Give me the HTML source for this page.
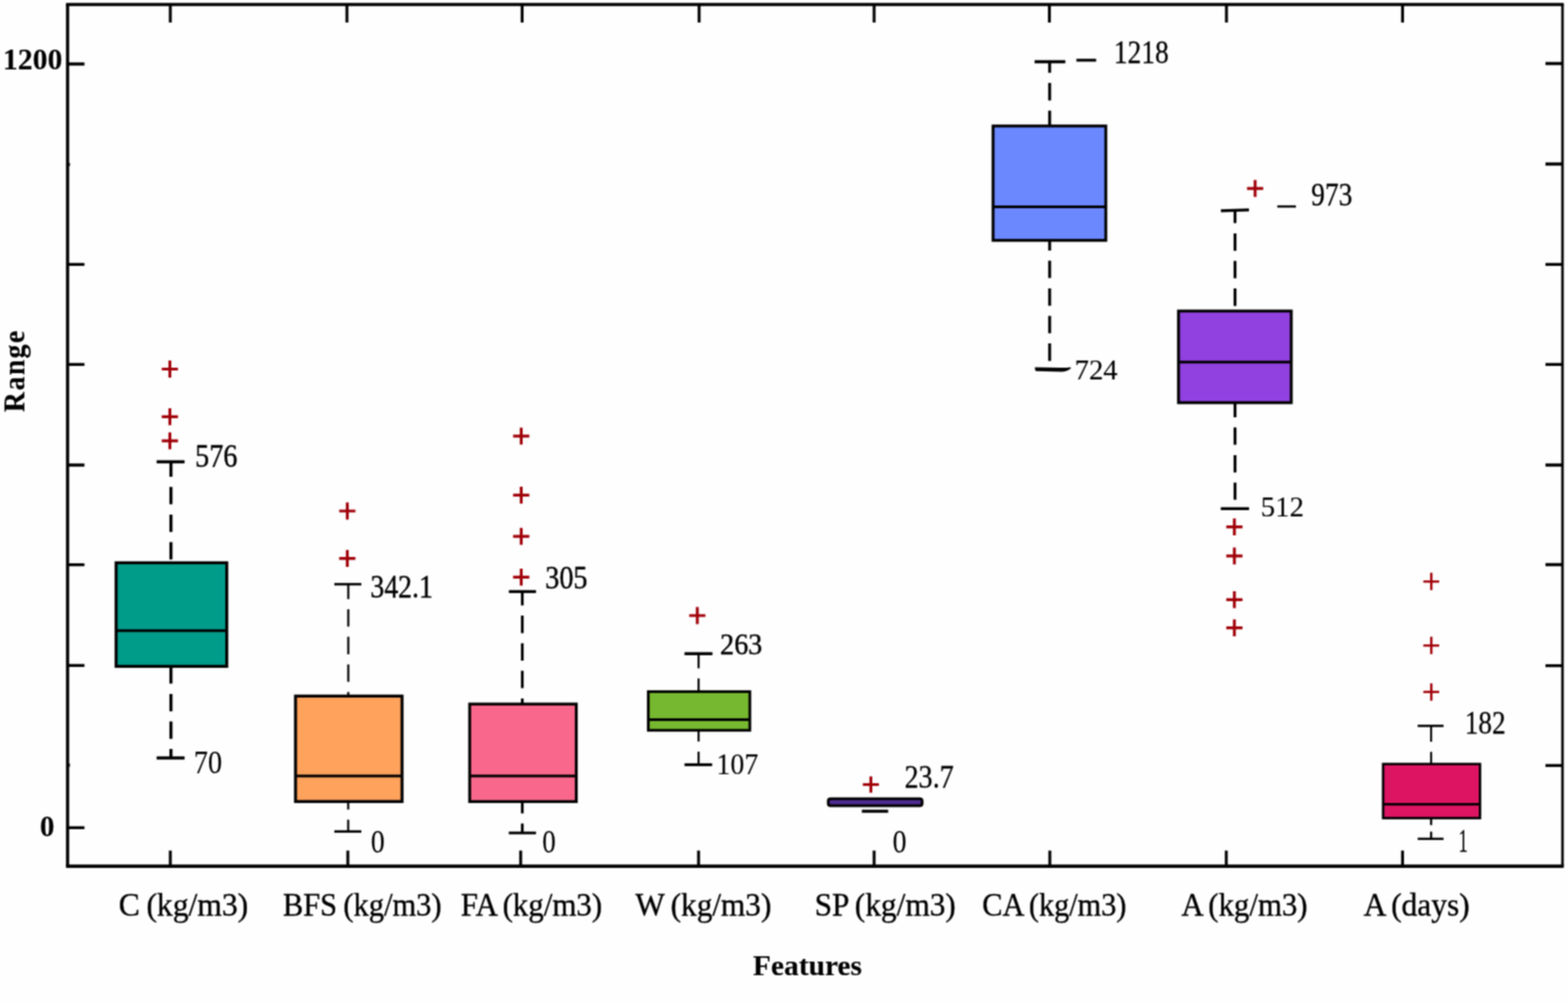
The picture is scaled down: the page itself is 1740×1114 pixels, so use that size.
<!DOCTYPE html>
<html lang="en">
<head>
<meta charset="utf-8">
<title>Box plot of features</title>
<style>
html,body{margin:0;padding:0;background:#fefefe;}
body{width:1740px;height:1114px;overflow:hidden;}
svg{display:block;font-family:'Liberation Serif', 'DejaVu Serif', serif;}
text{fill:#000;stroke:#000;stroke-linejoin:round;}
</style>
</head>
<body>
<svg width="1740" height="1114" viewBox="0 0 1740 1114">
<defs><filter id="soft" x="0" y="0" width="1740" height="1114" filterUnits="userSpaceOnUse" color-interpolation-filters="sRGB"><feConvolveMatrix order="3" kernelMatrix="1 2 1 2 4 2 1 2 1" edgeMode="duplicate" preserveAlpha="true"/></filter></defs>
<g id="chart" filter="url(#soft)">
<rect width="1740" height="1114" fill="#fefefe"/>
<g id="axes" stroke="#000" fill="none" stroke-linecap="butt">
<path d="M73.25 5.0H1735.3" stroke-width="3.6"/>
<path d="M73.25 961.1H1735.3" stroke-width="3.6"/>
<path d="M75.0 5.0V961.1" stroke-width="3.5"/>
<path d="M1733.9 5.0V961.1" stroke-width="2.8"/>
<path d="M189 5.0V25.0M385 5.0V25.0M579.4 5.0V25.0M775.8 5.0V25.0M970 5.0V25.0M1164.5 5.0V25.0M1361 5.0V25.0M1556.4 5.0V25.0M189 961.1V943.8M386 961.1V943.8M577.8 961.1V943.8M775.2 961.1V943.8M970 961.1V943.8M1165 961.1V943.8M1360.8 961.1V943.8M1556.4 961.1V943.8" stroke-width="3.2"/>
<path d="M75.0 71.0H93.7M75.0 293.3H93.7M75.0 404.4H93.7M75.0 516H93.7M75.0 626.7H93.7M75.0 738.3H93.7M75.0 918.3H93.7M1733.9 70.5H1715M1733.9 182H1715M1733.9 293.3H1715M1733.9 404.3H1715M1733.9 516H1715M1733.9 626.5H1715M1733.9 738.7H1715M1733.9 849.3H1715M75.0 182.5H77.6M75.0 849H77.6" stroke-width="3.3"/>
</g>
<g id="axis-labels">
<text x="3.2" y="77.1" font-size="33.5" font-weight="bold" textLength="66" lengthAdjust="spacingAndGlyphs" stroke-width="0.1">1200</text>
<text x="44.3" y="927.8" font-size="33.5" font-weight="bold" textLength="16.2" lengthAdjust="spacingAndGlyphs" stroke-width="0.1">0</text>
<text transform="translate(26.7,457.2) rotate(-90) scale(0.925,1)" font-size="33.4" font-weight="bold" stroke-width="0.1" textLength="97.6" lengthAdjust="spacing">Range</text>
<text x="835.6" y="1082.3" font-size="32.3" font-weight="bold" textLength="121" lengthAdjust="spacingAndGlyphs" stroke-width="0.1">Features</text>
<text x="131.8" y="1016" font-size="35.6" textLength="143.7" lengthAdjust="spacingAndGlyphs" word-spacing="-1.6" stroke-width="0.4">C (kg/m3)</text>
<text x="314" y="1016" font-size="35.6" textLength="176" lengthAdjust="spacingAndGlyphs" word-spacing="-1.6" stroke-width="0.4">BFS (kg/m3)</text>
<text x="511.2" y="1016" font-size="35.6" textLength="157" lengthAdjust="spacingAndGlyphs" word-spacing="-1.6" stroke-width="0.4">FA (kg/m3)</text>
<text x="705" y="1016" font-size="35.6" textLength="151" lengthAdjust="spacingAndGlyphs" word-spacing="-1.6" stroke-width="0.4">W (kg/m3)</text>
<text x="904" y="1016" font-size="35.6" textLength="156.7" lengthAdjust="spacingAndGlyphs" word-spacing="-1.6" stroke-width="0.4">SP (kg/m3)</text>
<text x="1090" y="1016" font-size="35.6" textLength="160" lengthAdjust="spacingAndGlyphs" word-spacing="-1.6" stroke-width="0.4">CA (kg/m3)</text>
<text x="1311" y="1016" font-size="35.6" textLength="140" lengthAdjust="spacingAndGlyphs" word-spacing="-1.6" stroke-width="0.4">A (kg/m3)</text>
<text x="1513.3" y="1016" font-size="35.6" textLength="117.7" lengthAdjust="spacingAndGlyphs" word-spacing="-1.6" stroke-width="0.4">A (days)</text>
</g>
<g id="box-C">
<path d="M189.7 512.4V624" stroke="#000" stroke-width="3.4" stroke-dasharray="19.3 11.3" stroke-dashoffset="2.7"/>
<path d="M173.8 512.4H204.8" stroke="#000" stroke-width="3.5"/>
<path d="M189.7 740V841" stroke="#000" stroke-width="3.4" stroke-dasharray="19.3 11.3" stroke-dashoffset="0.7"/>
<path d="M173.8 841H204.8" stroke="#000" stroke-width="3.5"/>
<rect x="128.85" y="624.45" width="122.8" height="114.9" fill="#009c8a" stroke="#000" stroke-width="3.3"/>
<path d="M128.85 699.8H251.65" stroke="#000" stroke-width="3"/>
<path d="M179.5 409.5H197.5M188.5 400.1V418.9" stroke="#a00008" stroke-width="3.2" fill="none"/>
<path d="M179.5 462.4H197.5M188.5 453V471.8" stroke="#a00008" stroke-width="3.2" fill="none"/>
<path d="M179.5 489.1H197.5M188.5 479.7V498.5" stroke="#a00008" stroke-width="3.2" fill="none"/>
<text x="216.5" y="517.8" font-size="35" textLength="47" lengthAdjust="spacingAndGlyphs" stroke-width="0.45">576</text>
<text x="215" y="858" font-size="35" textLength="31.5" lengthAdjust="spacingAndGlyphs" stroke-width="0.1">70</text>
</g>
<g id="box-BFS">
<path d="M386.5 648.2V772" stroke="#000" stroke-width="2.3" stroke-dasharray="19.3 11.3" stroke-dashoffset="2.8"/>
<path d="M371 648.2H401" stroke="#000" stroke-width="2.7"/>
<path d="M386.4 890V922.6" stroke="#000" stroke-width="2.3" stroke-dasharray="19.3 11.3" stroke-dashoffset="11.1"/>
<path d="M371 922.6H401" stroke="#000" stroke-width="2.7"/>
<rect x="327.95" y="772.35" width="118.2" height="117" fill="#ffa25c" stroke="#000" stroke-width="3.3"/>
<path d="M327.95 861H446.15" stroke="#000" stroke-width="3"/>
<path d="M376.4 567H394.4M385.4 557.6V576.4" stroke="#a00008" stroke-width="3.2" fill="none"/>
<path d="M376.4 619.6H394.4M385.4 610.2V629" stroke="#a00008" stroke-width="3.2" fill="none"/>
<text x="411" y="663" font-size="35" textLength="69.3" lengthAdjust="spacingAndGlyphs" stroke-width="0.45">342.1</text>
<text x="411.5" y="946.4" font-size="35" textLength="15.5" lengthAdjust="spacingAndGlyphs" stroke-width="0.1">0</text>
</g>
<g id="box-FA">
<path d="M579.6 656.4V781" stroke="#000" stroke-width="3" stroke-dasharray="19.3 11.3" stroke-dashoffset="3.9"/>
<path d="M564.7 656.4H594.8" stroke="#000" stroke-width="3.3"/>
<path d="M579.6 890V924.2" stroke="#000" stroke-width="3" stroke-dasharray="19.3 11.3" stroke-dashoffset="6.9"/>
<path d="M564.6 924.2H594.8" stroke="#000" stroke-width="3.0"/>
<rect x="521.2" y="781.2" width="118.3" height="108.2" fill="#f9688c" stroke="#000" stroke-width="3.2"/>
<path d="M521.2 861H639.5" stroke="#000" stroke-width="3"/>
<path d="M569.4 483.9H587.4M578.4 474.5V493.3" stroke="#a00008" stroke-width="3.2" fill="none"/>
<path d="M569.4 549.3H587.4M578.4 539.9V558.7" stroke="#a00008" stroke-width="3.2" fill="none"/>
<path d="M569.4 595.2H587.4M578.4 585.8V604.6" stroke="#a00008" stroke-width="3.2" fill="none"/>
<path d="M569.4 640.3H587.4M578.4 630.9V649.7" stroke="#a00008" stroke-width="3.2" fill="none"/>
<text x="605" y="652.8" font-size="35" textLength="47" lengthAdjust="spacingAndGlyphs" stroke-width="0.45">305</text>
<text x="601.8" y="946.2" font-size="35" textLength="15" lengthAdjust="spacingAndGlyphs" stroke-width="0.1">0</text>
</g>
<g id="box-W">
<path d="M775.2 725.3V767" stroke="#000" stroke-width="2.3" stroke-dasharray="19.3 11.3" stroke-dashoffset="3.2"/>
<path d="M759.6 725.3H790.6" stroke="#000" stroke-width="3.4"/>
<path d="M775.2 810V848.5" stroke="#000" stroke-width="2.3" stroke-dasharray="19.3 11.3" stroke-dashoffset="6.5"/>
<path d="M759.6 848.5H790.3" stroke="#000" stroke-width="3.2"/>
<rect x="719.4" y="767.4" width="112.7" height="42.9" fill="#76b82f" stroke="#000" stroke-width="3.0"/>
<path d="M719.4 798.4H832.1" stroke="#000" stroke-width="3"/>
<path d="M764.8 683H782.8M773.8 673.6V692.4" stroke="#a00008" stroke-width="3.2" fill="none"/>
<text x="799" y="726.3" font-size="33.8" textLength="47" lengthAdjust="spacingAndGlyphs" stroke-width="0.45">263</text>
<text x="794.9" y="858.5" font-size="33.5" textLength="46.5" lengthAdjust="spacingAndGlyphs" stroke-width="0.1">107</text>
</g>
<g id="box-SP">
<rect x="919.1" y="886.3" width="104.2" height="7.7" rx="2.6" fill="#4d2b8f" stroke="#000" stroke-width="3"/>
<path d="M956.4 900.1H985.6" stroke="#000" stroke-width="3.4"/>
<path d="M957.5 870.5H975.3M966.4 861.4V879.6" stroke="#a00008" stroke-width="3.2" fill="none"/>
<text x="1003.7" y="874" font-size="34.8" textLength="54.7" lengthAdjust="spacingAndGlyphs" stroke-width="0.3">23.7</text>
<text x="990.5" y="946.3" font-size="35" textLength="15.5" lengthAdjust="spacingAndGlyphs" stroke-width="0.1">0</text>
</g>
<g id="box-CA">
<path d="M1164.8 68.4V139" stroke="#000" stroke-width="3.2" stroke-dasharray="19.3 11.3" stroke-dashoffset="6.9"/>
<path d="M1148.1 68.4H1182.2" stroke="#000" stroke-width="3.5"/>
<path d="M1164.8 267V401.2" stroke="#000" stroke-width="3.2" stroke-dasharray="19.3 11.3" stroke-dashoffset="8.3"/>
<path d="M1148.4 407.6Q1148.2 409.8 1149.4 411.7L1178 412.4Q1184 412.2 1188.6 408.4L1187.8 407.4Q1182 408.2 1176 407.9Z" fill="#000"/>
<rect x="1102" y="139.8" width="125.1" height="126.9" fill="#6b88ff" stroke="#000" stroke-width="3.2"/>
<path d="M1102 229.4H1227.1" stroke="#000" stroke-width="3"/>
<path d="M1194.5 66.8H1216.4" stroke="#000" stroke-width="3.2"/>
<text x="1236" y="69.7" font-size="35.8" textLength="61" lengthAdjust="spacingAndGlyphs" stroke-width="0.3">1218</text>
<text x="1192.5" y="420.8" font-size="32" textLength="47.8" lengthAdjust="spacingAndGlyphs" stroke-width="0.1">724</text>
</g>
<g id="box-Akg">
<path d="M1370.5 233.4V339.8" stroke="#000" stroke-width="3.2" stroke-dasharray="19.3 11.3" stroke-dashoffset="5.1"/>
<path d="M1354.8 233.9L1386 232.9" stroke="#000" stroke-width="3.3"/>
<path d="M1370.5 447V554.6" stroke="#000" stroke-width="3.2" stroke-dasharray="19.3 11.3" stroke-dashoffset="3.3"/>
<path d="M1354.7 564.4H1386.1" stroke="#000" stroke-width="3.3"/>
<rect x="1307.8" y="345.1" width="125.1" height="101.7" fill="#9141e0" stroke="#000" stroke-width="3.2"/>
<path d="M1307.8 401.8H1432.9" stroke="#000" stroke-width="3"/>
<path d="M1383.8 209.1H1401.8M1392.8 199.7V218.5" stroke="#a00008" stroke-width="3.2" fill="none"/>
<path d="M1360.8 584.7H1378.8M1369.8 575.3V594.1" stroke="#a00008" stroke-width="3.2" fill="none"/>
<path d="M1360.8 616.8H1378.8M1369.8 607.4V626.2" stroke="#a00008" stroke-width="3.2" fill="none"/>
<path d="M1360.8 665.4H1378.8M1369.8 656V674.8" stroke="#a00008" stroke-width="3.2" fill="none"/>
<path d="M1360.8 696.7H1378.8M1369.8 687.3V706.1" stroke="#a00008" stroke-width="3.2" fill="none"/>
<path d="M1417.4 229.1H1438.1" stroke="#000" stroke-width="2.5"/>
<text x="1455.1" y="228.2" font-size="35.2" textLength="45.6" lengthAdjust="spacingAndGlyphs" stroke-width="0.3">973</text>
<text x="1399.1" y="573" font-size="32" textLength="48" lengthAdjust="spacingAndGlyphs" stroke-width="0.1">512</text>
</g>
<g id="box-Adays">
<path d="M1588.1 805.4V847" stroke="#000" stroke-width="2.2" stroke-dasharray="19.3 11.3" stroke-dashoffset="1.8"/>
<path d="M1573.2 805.4H1601.9" stroke="#000" stroke-width="2.6"/>
<path d="M1588.1 908V915.6M1588.1 922.7V930.8M1573.2 930.8H1601.9" stroke="#000" stroke-width="2.4" fill="none"/>
<rect x="1534.85" y="847.75" width="107.5" height="60" fill="#dd1462" stroke="#000" stroke-width="2.7"/>
<path d="M1534.85 892.3H1642.35" stroke="#000" stroke-width="2.7"/>
<path d="M1579.5 645.2H1597.1M1588.3 635.6V654.8" stroke="#a00008" stroke-width="2.6" fill="none"/>
<path d="M1579.5 716.2H1597.1M1588.3 706.6V725.8" stroke="#a00008" stroke-width="2.6" fill="none"/>
<path d="M1579.5 767.8H1597.1M1588.3 758.2V777.4" stroke="#a00008" stroke-width="2.6" fill="none"/>
<text x="1625.5" y="813.8" font-size="36.3" textLength="45.3" lengthAdjust="spacingAndGlyphs" stroke-width="0.3">182</text>
<text x="1618.4" y="945.3" font-size="36.3" textLength="10.3" lengthAdjust="spacingAndGlyphs" stroke-width="0.3">1</text>
</g>
</g>
</svg>
</body>
</html>
